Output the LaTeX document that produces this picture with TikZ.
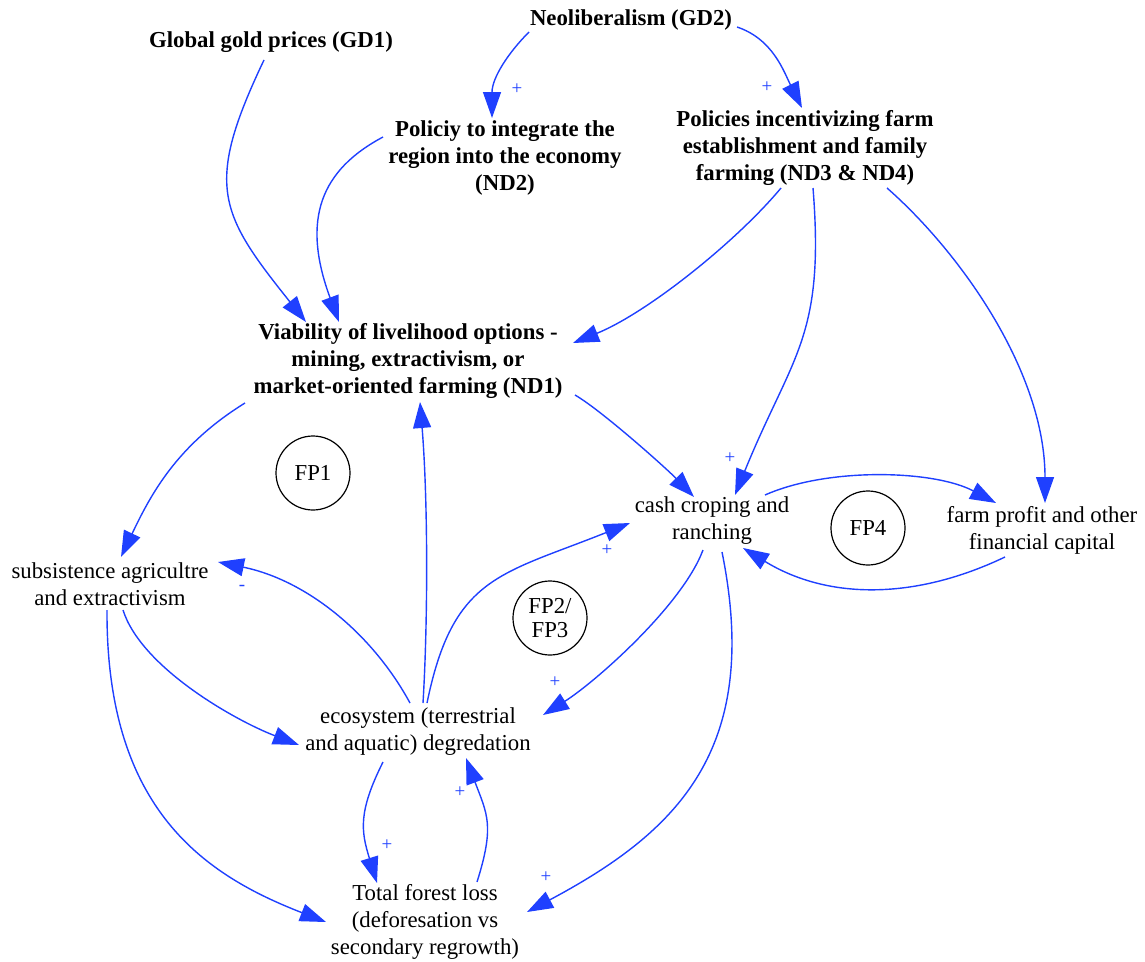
\documentclass[tikz,border=0pt]{standalone}
\usepackage{fontspec}
\setmainfont{Liberation Serif}
\usetikzlibrary{arrows.meta}
\definecolor{linkblue}{RGB}{31,64,255}
\begin{document}
\begin{tikzpicture}[x=1pt, y=1pt,
  var/.style={align=center, inner sep=0pt, font=\fontsize{22.8}{27}\selectfont\bfseries},
  lvar/.style={align=center, inner sep=0pt, font=\fontsize{22.8}{27}\selectfont},
  fp/.style={circle, draw, line width=1.2pt, minimum size=74pt, inner sep=0pt, align=center, font=\fontsize{22.8}{24}\selectfont},
  link/.style={draw=linkblue, line width=1.4pt, -{Triangle[length=26pt, width=18pt]}},
  sgn/.style={text=linkblue, inner sep=0pt, font=\fontsize{19}{19}\selectfont}]
\useasboundingbox (0,0) rectangle (1145,-961);
\node[var] (gd1) at (271,-42) {Global gold prices (GD1)};
\node[var] (gd2) at (631,-20) {Neoliberalism (GD2)};
\node[var] (nd2) at (505,-158) {Policiy to integrate the\\region into the economy\\(ND2)};
\node[var] (nd34) at (805,-148) {Policies incentivizing farm\\establishment and family\\farming (ND3 \& ND4)};
\node[var] (nd1) at (408,-361) {Viability of livelihood options -\\mining, extractivism, or\\market-oriented farming (ND1)};
\node[lvar] (cash) at (712,-521) {cash croping and\\ranching};
\node[lvar] (profit) at (1042,-530) {farm profit and other\\financial capital};
\node[lvar] (subs) at (110,-584) {subsistence agricultre\\and extractivism};
\node[lvar] (eco) at (418,-732) {ecosystem (terrestrial\\and aquatic) degredation};
\node[lvar] (forest) at (425,-922) {Total forest loss\\(deforesation vs\\secondary regrowth)};
\node[fp] (fp1) at (313,-473) {FP1};
\node[fp] (fp23) at (550,-618) {FP2/\\FP3};
\node[fp] (fp4) at (868,-528) {FP4};
% links
\draw[link] ([shift={(-7,-18)}]gd1.center) .. controls +(-60,-126) and +(-87,109) .. ([shift={(-102,39)}]nd1.center);
\draw[link] ([shift={(-122,21)}]nd2.center) .. controls +(-62,-33) and +(-38,103) .. ([shift={(-69,39)}]nd1.center);
\draw[link] ([shift={(-102,-12)}]gd2.center) .. controls +(-21,-21) and +(0,40) .. ([shift={(-13,40)}]nd2.center);
\draw[link] ([shift={(106,-7)}]gd2.center) .. controls +(36,-12) and +(-18,36) .. ([shift={(-3,40)}]nd34.center);
\draw[link] ([shift={(-24,-40)}]nd34.center) .. controls +(-45,-54) and +(74,30) .. ([shift={(165,18)}]nd1.center);
\draw[link] ([shift={(8,-40)}]nd34.center) .. controls +(12,-150) and +(57,140) .. ([shift={(23,26)}]cash.center);
\draw[link] ([shift={(82,-40)}]nd34.center) .. controls +(75,-66) and +(0,130) .. ([shift={(3,27)}]profit.center);
\draw[link] ([shift={(167,-34)}]nd1.center) .. controls +(26,-15) and +(-28,29) .. ([shift={(-18,24)}]cash.center);
\draw[link] ([shift={(-163,-42)}]nd1.center) .. controls +(-68,-42) and +(30,63) .. ([shift={(11,27)}]subs.center);
\draw[link] ([shift={(5,29)}]eco.center) .. controls +(5,83) and +(8,-98) .. ([shift={(12,-41)}]nd1.center);
\draw[link] ([shift={(-8,29)}]eco.center) .. controls +(-38,70) and +(88,-18) .. ([shift={(108,22)}]subs.center);
\draw[link] ([shift={(9,29)}]eco.center) .. controls +(26,127) and +(-130,-52) .. ([shift={(-82,-2)}]cash.center);
\draw[link] ([shift={(-9,-29)}]cash.center) .. controls +(-21,-56) and +(51,32) .. ([shift={(125,17)}]eco.center);
\draw[link] ([shift={(10,-31)}]cash.center) .. controls +(40,-198) and +(150,80) .. ([shift={(102,10)}]forest.center);
\draw[link] ([shift={(53,26)}]cash.center) .. controls +(63,28) and +(-62,33) .. ([shift={(-46,27)}]profit.center);
\draw[link] ([shift={(-37,-27)}]profit.center) .. controls +(-90,-43) and +(85,-52) .. ([shift={(31,-27)}]cash.center);
\draw[link] ([shift={(13,-26)}]subs.center) .. controls +(18,-57) and +(-65,25) .. ([shift={(-119,-13)}]eco.center);
\draw[link] ([shift={(-3,-26)}]subs.center) .. controls +(-1,-200) and +(-121,47) .. ([shift={(-99,0)}]forest.center);
\draw[link] ([shift={(-35,-30)}]eco.center) .. controls +(-25,-50) and +(-16,52) .. ([shift={(-48,39)}]forest.center);
\draw[link] ([shift={(52,40)}]forest.center) .. controls +(18,57) and +(21,-56) .. ([shift={(48,-26)}]eco.center);
% polarities
\node[sgn] (p1) at (517,-89) {+};
\node[sgn] (p2) at (767,-87) {+};
\node[sgn] (p3) at (730,-458) {+};
\node[sgn] (p4) at (607,-550) {+};
\node[sgn] (p5) at (555,-682) {+};
\node[sgn] (p6) at (546,-877) {+};
\node[sgn] (p7) at (387,-845) {+};
\node[sgn] (p8) at (460,-792) {+};
\node[sgn] (m1) at (242,-588) {-};
\end{tikzpicture}
\end{document}
